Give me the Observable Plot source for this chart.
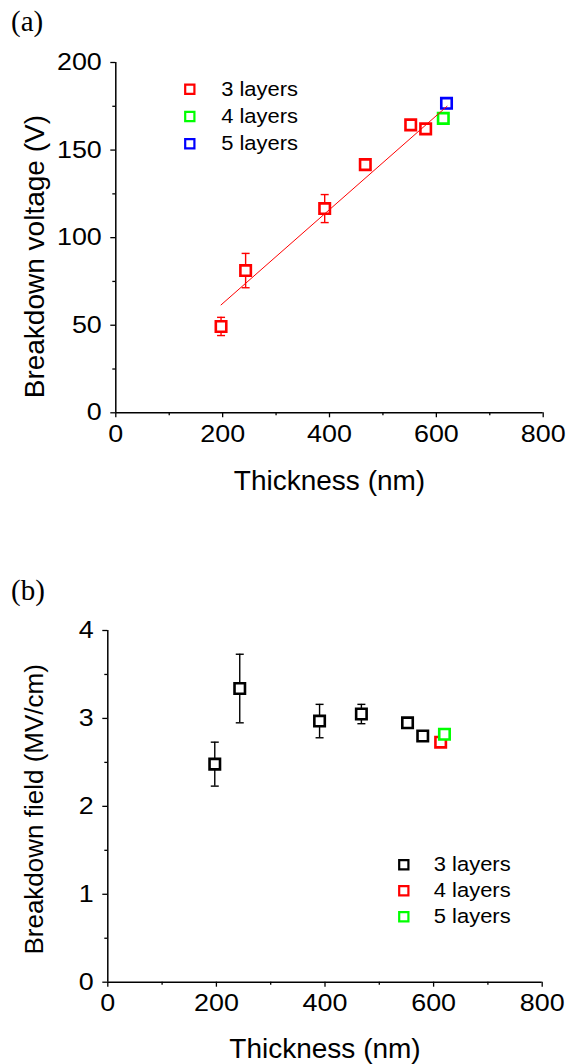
<!DOCTYPE html>
<html>
<head>
<meta charset="utf-8">
<script src="https://cdn.jsdelivr.net/npm/d3@7"></script>
<script src="https://cdn.jsdelivr.net/npm/@observablehq/plot@0.6"></script>
<style>
  html, body { margin: 0; padding: 0; background: #fff; }
  #wrap { position: relative; width: 571px; height: 1064px; background: #fff; overflow: hidden; }
  .panel { position: absolute; left: 0; z-index: 1; }
  .tag { position: absolute; left: 11px; z-index: 2; font-family: "Liberation Serif", "Times New Roman", serif; font-size: 29px; line-height: 1; color: #000; }
</style>
</head>
<body>
<div id="wrap">
  <div id="pa" class="panel" style="top:0px"></div>
  <div id="pb" class="panel" style="top:540px"></div>
  <div class="tag" style="top:7px">(a)</div>
  <div class="tag" style="top:576px">(b)</div>
</div>
<script>
// ---------- data ----------
const layerNames = ["3 layers", "4 layers", "5 layers"];

// panel (a): breakdown voltage
const thicknessA = [197, 243, 391, 467, 552, 580, 613, 619];
const voltage    = [49.3, 81.2, 116.6, 141.7, 164.4, 162.1, 168.1, 176.7];
const voltageErr = [5.2, 9.8, 8.0, 1.5, 1.5, 1.2, 1.5, 3.0];
const layersA    = ["3 layers","3 layers","3 layers","3 layers","3 layers","3 layers","4 layers","5 layers"];
const colorsA    = ["#ff0000", "#00ff00", "#0000ff"];
const fitThickness = [197, 620];
const fitVoltage   = [61.6, 175.0];

// panel (b): breakdown field
const thicknessB = [197, 243, 390, 467, 552, 580, 613, 620];
const field      = [2.48, 3.34, 2.97, 3.05, 2.95, 2.80, 2.73, 2.82];
const fieldErr   = [0.25, 0.39, 0.19, 0.11, 0.03, 0.03, 0.02, 0.02];
const layersB    = ["3 layers","3 layers","3 layers","3 layers","3 layers","3 layers","4 layers","5 layers"];
const colorsB    = ["#000000", "#ff0000", "#00ff00"];

// ticks
const xTicks  = [0, 200, 400, 600, 800];
const xMinor  = [100, 300, 500, 700];
const yTicksA = [0, 50, 100, 150, 200];
const yMinorA = [25, 75, 125, 175];
const yTicksB = [0, 1, 2, 3, 4];
const yMinorB = [0.5, 1.5, 2.5, 3.5];

const xTitle  = "Thickness (nm)";
const yTitleA = "Breakdown voltage (V)";
const yTitleB = "Breakdown field (MV/cm)";

// ---------- helpers ----------
const cap = { draw(ctx, size) { const w = Math.sqrt(size / Math.PI); ctx.moveTo(-w, 0); ctx.lineTo(w, 0); } };
const fmt = d => String(d);

function panel(cfg) {
  const data = cfg.x.map((x, i) => ({ x, y: cfg.y[i], e: cfg.e[i], layer: cfg.layer[i] }));
  const legend = layerNames.flatMap((l, i) => [
    Plot.dot([l], { frameAnchor: "top-left", dx: cfg.legDx, dy: cfg.legDy + i * cfg.legStep,
      symbol: "square", r: 5.2, stroke: d => d, fill: "white", strokeWidth: 2.2 }),
    Plot.text([l], { frameAnchor: "top-left", dx: cfg.legTx, dy: cfg.legDy + i * cfg.legStep,
      text: d => d, textAnchor: "start", lineAnchor: "middle", fontSize: 20.5, fill: "black",
      ariaDescription: "legend" })
  ]);
  return Plot.plot({
    width: 571, height: cfg.height,
    marginLeft: cfg.ml, marginRight: cfg.mr, marginTop: cfg.mt, marginBottom: cfg.mb,
    x: { domain: [0, 800] },
    y: { domain: cfg.ydomain },
    color: { domain: layerNames, range: cfg.colors },
    style: { fontFamily: "'Liberation Sans', Arial, sans-serif", fontSize: "24px", color: "#000", background: "white", overflow: "visible" },
    marks: [
      Plot.axisX({ ticks: xTicks, tickSize: 5, tickPadding: 7, tickFormat: fmt, label: null, strokeWidth: 1.3, fontSize: 24 }),
      Plot.axisX({ ticks: xMinor, tickSize: 3, tickFormat: () => "", label: null, strokeWidth: 1.3 }),
      Plot.axisY({ ticks: cfg.yTicks, tickSize: 5, tickPadding: 9, tickFormat: fmt, label: null, strokeWidth: 1.3, fontSize: 24 }),
      Plot.axisY({ ticks: cfg.yMinor, tickSize: 3, tickFormat: () => "", label: null, strokeWidth: 1.3 }),
      Plot.ruleY([cfg.ydomain[0]], { strokeWidth: 1.5 }),
      Plot.ruleX([0], { strokeWidth: 1.5 }),
      Plot.ruleX(data, { x: "x", y1: d => d.y - d.e, y2: d => d.y + d.e, stroke: "layer", strokeWidth: 1.4 }),
      Plot.dot(data, { x: "x", y: d => d.y + d.e, symbol: cap, r: 4, stroke: "layer", fill: "none", strokeWidth: 1.4 }),
      Plot.dot(data, { x: "x", y: d => d.y - d.e, symbol: cap, r: 4, stroke: "layer", fill: "none", strokeWidth: 1.4 }),
      Plot.dot(data, { x: "x", y: "y", symbol: "square", r: 5.9, stroke: "layer", fill: "white", strokeWidth: 2.6 }),
      ...(cfg.fit ? [Plot.line(cfg.fit, { x: "x", y: "y", stroke: "#ff0000", strokeWidth: 1 })] : []),
      ...legend,
      Plot.text([xTitle], { frameAnchor: "bottom", dy: cfg.xtDy, text: d => d, fontSize: 28, textAnchor: "middle", lineAnchor: "middle" }),
      Plot.text([cfg.yTitle], { frameAnchor: "left", rotate: -90, dx: cfg.ytDx, dy: cfg.ytDy, text: d => d, fontSize: cfg.ytSize, textAnchor: "middle", lineAnchor: "middle" })
    ]
  });
}

function stretch(svg, selector, factor) {
  svg.querySelectorAll(selector).forEach(t => {
    const w = t.getComputedTextLength();
    if (w > 0) {
      t.setAttribute("textLength", (w * factor).toFixed(2));
      t.setAttribute("lengthAdjust", "spacingAndGlyphs");
    }
  });
}

const fitA = fitThickness.map((x, i) => ({ x, y: fitVoltage[i] }));

const chartA = panel({
  x: thicknessA, y: voltage, e: voltageErr, layer: layersA, colors: colorsA,
  height: 500, ml: 115.3, mr: 28.3, mt: 62, mb: 87.7,
  ydomain: [0, 200], yTicks: yTicksA, yMinor: yMinorA, yTitle: yTitleA,
  legDx: 74, legDy: 26.7, legStep: 27.3, legTx: 105.4,
  xtDy: 68, ytDx: -81, ytDy: 19, ytSize: 28, fit: fitA
});
const chartB = panel({
  x: thicknessB, y: field, e: fieldErr, layer: layersB, colors: colorsB,
  height: 524, ml: 107.3, mr: 29.3, mt: 90, mb: 82.3,
  ydomain: [0, 4], yTicks: yTicksB, yMinor: yMinorB, yTitle: yTitleB,
  legDx: 296, legDy: 234.3, legStep: 26, legTx: 326,
  xtDy: 67.3, ytDx: -73.3, ytDy: 3, ytSize: 26, fit: null
});

document.getElementById("pa").appendChild(chartA);
document.getElementById("pb").appendChild(chartB);

for (const svg of [chartA, chartB]) {
  stretch(svg, 'g[aria-label="x-axis tick label"] text', 1.12);
  stretch(svg, 'g[aria-label="y-axis tick label"] text', 1.12);
  stretch(svg, 'g[aria-description="legend"] text', 1.07);
}
</script>
</body>
</html>
